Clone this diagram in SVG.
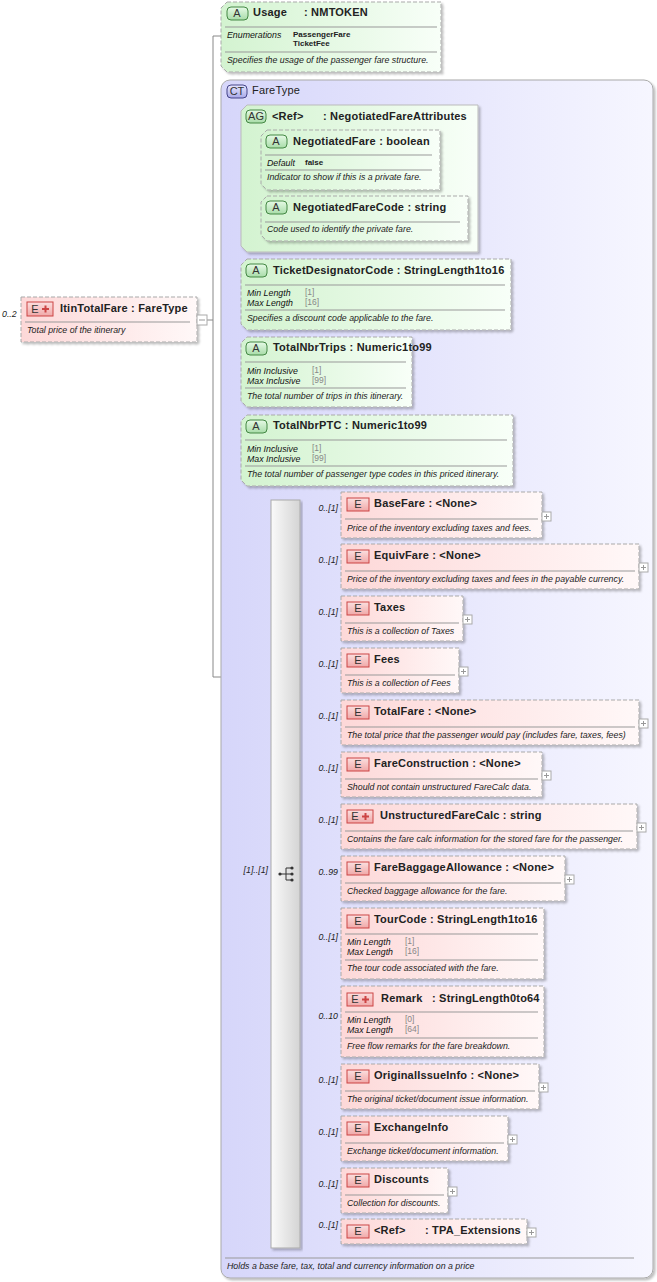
<svg xmlns="http://www.w3.org/2000/svg" width="657" height="1282" viewBox="0 0 657 1282">
<defs>
<linearGradient id="gE" x1="0" x2="1"><stop offset="0" stop-color="#fdd8d8"/><stop offset="1" stop-color="#fff8f8"/></linearGradient>
<linearGradient id="gA" x1="0" x2="1"><stop offset="0" stop-color="#d3f3d0"/><stop offset="1" stop-color="#f8fff8"/></linearGradient>
<linearGradient id="gCT" x1="0" x2="1"><stop offset="0" stop-color="#d6d6fa"/><stop offset="1" stop-color="#f6f6ff"/></linearGradient>
<linearGradient id="gSeq" x1="0" x2="1"><stop offset="0" stop-color="#fafafa"/><stop offset="1" stop-color="#d4d4d4"/></linearGradient>
<linearGradient id="gBE" x1="0" y1="0" x2="0" y2="1"><stop offset="0" stop-color="#fbe0e0"/><stop offset="1" stop-color="#f0a8a8"/></linearGradient>
<linearGradient id="gBA" x1="0" y1="0" x2="0" y2="1"><stop offset="0" stop-color="#e6fae6"/><stop offset="1" stop-color="#a8dca8"/></linearGradient>
<linearGradient id="gBC" x1="0" y1="0" x2="0" y2="1"><stop offset="0" stop-color="#e8e8ff"/><stop offset="1" stop-color="#a8a8e8"/></linearGradient>
<filter id="sh" x="-5%" y="-5%" width="115%" height="130%"><feDropShadow dx="2" dy="2" stdDeviation="1" flood-color="#000" flood-opacity="0.25"/></filter>
</defs>
<style>
text{font-family:"Liberation Sans",Arial,sans-serif;fill:#222;white-space:pre}
.t{font-size:11px;font-weight:bold;letter-spacing:0.2px}
.d{font-size:8.8px;font-style:italic}
.k{font-size:8.8px;font-style:italic;fill:#111}
.v{font-size:8.5px;fill:#888}
.b{font-size:8px;font-weight:bold}
.c{font-size:8.8px;font-style:italic;text-anchor:end}
.bt{font-size:11px;text-anchor:middle;fill:#333}
.el{fill:url(#gE);stroke:#aaa;stroke-dasharray:4,2;filter:url(#sh)}
.at{fill:url(#gA);stroke:#aaa;stroke-dasharray:4,2;filter:url(#sh)}
.ag{fill:url(#gA);stroke:#bbb;filter:url(#sh)}
.sep{stroke:#999;stroke-width:1}
.be{fill:url(#gBE);stroke:#c44}
.ba{fill:url(#gBA);stroke:#484}
.bc{fill:url(#gBC);stroke:#448}
.ln{stroke:#888;fill:none}
.pb{fill:#fff;stroke:#aaa}
.pl{stroke:#999}
</style>

<g id="connectors">
<path class="ln" d="M207,320H213M213,36V677H222M213,36H222"/>
<path class="ln" d="M231,178V874M231,178H241M231,295H241M231,372H241M231,450H241M231,874H271"/>
<path class="ln" d="M251,160V219M251,160H261M251,219H261"/>
<path class="ln" d="M300,514H341M300,566H341M300,618H341M300,670H341M300,722H341M300,774H341M300,826H341M300,878H341M300,943H341M300,1021H341M300,1086H341M300,1137H341M300,1189H341M300,1232H341"/>
</g>

<g id="ItinTotalFare">
<text x="2" y="317" class="c" style="text-anchor:start">0..2</text>
<rect class="el" x="21" y="297" width="176" height="45"/>
<rect class="be" x="27" y="302" width="26" height="14"/>
<text x="35" y="313" class="bt">E</text>
<path d="M42,309h7M45.5,305.5v7" stroke="#c44" stroke-width="2"/>
<text x="60" y="312" class="t">ItinTotalFare : FareType</text>
<line class="sep" x1="25" y1="322" x2="190" y2="322"/>
<text x="27" y="333" class="d">Total price of the itinerary</text>
<rect class="pb" x="197" y="315" width="10" height="10"/>
<line class="pl" x1="199" y1="320" x2="205" y2="320"/>
</g>

<g id="Usage">
<path class="at" d="M227,2H441V72H227L221,66V8Z"/>
<rect class="ba" x="227" y="7" width="21" height="13" rx="4"/>
<text x="237" y="17" class="bt">A</text>
<text x="253" y="16" class="t">Usage</text>
<text x="304" y="16" class="t">: NMTOKEN</text>
<line class="sep" x1="225" y1="27" x2="437" y2="27"/>
<text x="227" y="38" class="k">Enumerations</text>
<text x="293" y="37" class="b">PassengerFare</text>
<text x="293" y="46" class="b">TicketFee</text>
<line class="sep" x1="225" y1="52" x2="437" y2="52"/>
<text x="227" y="63" class="d">Specifies the usage of the passenger fare structure.</text>
</g>

<g id="FareType">
<rect x="221" y="80" width="432" height="1198" rx="9" fill="url(#gCT)" stroke="#aaa" filter="url(#sh)"/>
<rect class="bc" x="227" y="85" width="20" height="13" rx="4"/>
<text x="237" y="95" class="bt">CT</text>
<text x="252" y="94" class="t" style="font-weight:normal">FareType</text>
<line class="sep" x1="225" y1="1258" x2="634" y2="1258"/>
<text x="227" y="1269" class="d">Holds a base fare, tax, total and currency information on a price</text>
</g>

<g id="NegotiatedFareAttributes">
<path class="ag" d="M247,105H478V252H247L241,246V111Z"/>
<rect class="ba" x="246" y="110" width="20" height="13" rx="4"/>
<text x="256" y="120" class="bt">AG</text>
<text x="272" y="120" class="t">&lt;Ref&gt;</text>
<text x="323" y="120" class="t">: NegotiatedFareAttributes</text>
</g>

<g id="NegotiatedFare">
<path class="at" d="M267,130H440V190H267L261,184V136Z"/>
<rect class="ba" x="266" y="135" width="21" height="13" rx="4"/>
<text x="276" y="145" class="bt">A</text>
<text x="293" y="145" class="t">NegotiatedFare : boolean</text>
<line class="sep" x1="265" y1="155" x2="432" y2="155"/>
<text x="267" y="166" class="k">Default</text>
<text x="305" y="165" class="b">false</text>
<line class="sep" x1="265" y1="170" x2="432" y2="170"/>
<text x="267" y="180" class="d">Indicator to show if this is a private fare.</text>
</g>

<g id="NegotiatedFareCode">
<path class="at" d="M267,196H468V241H267L261,235V202Z"/>
<rect class="ba" x="266" y="201" width="21" height="13" rx="4"/>
<text x="276" y="211" class="bt">A</text>
<text x="293" y="211" class="t">NegotiatedFareCode : string</text>
<line class="sep" x1="265" y1="222" x2="460" y2="222"/>
<text x="267" y="232" class="d">Code used to identify the private fare.</text>
</g>

<g id="TicketDesignatorCode">
<path class="at" d="M247,259H511V330H247L241,324V265Z"/>
<rect class="ba" x="246" y="264" width="21" height="13" rx="4"/>
<text x="256" y="274" class="bt">A</text>
<text x="273" y="274" class="t">TicketDesignatorCode : StringLength1to16</text>
<line class="sep" x1="245" y1="285" x2="505" y2="285"/>
<text x="247" y="296" class="k">Min Length</text><text x="305" y="295" class="v">[1]</text>
<text x="247" y="306" class="k">Max Length</text><text x="305" y="305" class="v">[16]</text>
<line class="sep" x1="245" y1="310" x2="505" y2="310"/>
<text x="247" y="321" class="d">Specifies a discount code applicable to the fare.</text>
</g>

<g id="TotalNbrTrips">
<path class="at" d="M247,337H412V407H247L241,401V343Z"/>
<rect class="ba" x="246" y="342" width="21" height="13" rx="4"/>
<text x="256" y="352" class="bt">A</text>
<text x="273" y="351" class="t">TotalNbrTrips : Numeric1to99</text>
<line class="sep" x1="245" y1="362" x2="406" y2="362"/>
<text x="247" y="374" class="k">Min Inclusive</text><text x="312" y="373" class="v">[1]</text>
<text x="247" y="384" class="k">Max Inclusive</text><text x="312" y="383" class="v">[99]</text>
<line class="sep" x1="245" y1="388" x2="406" y2="388"/>
<text x="247" y="399" class="d">The total number of trips in this itinerary.</text>
</g>

<g id="TotalNbrPTC">
<path class="at" d="M247,415H513V486H247L241,480V421Z"/>
<rect class="ba" x="246" y="420" width="21" height="13" rx="4"/>
<text x="256" y="430" class="bt">A</text>
<text x="273" y="429" class="t">TotalNbrPTC : Numeric1to99</text>
<line class="sep" x1="245" y1="440" x2="507" y2="440"/>
<text x="247" y="452" class="k">Min Inclusive</text><text x="312" y="451" class="v">[1]</text>
<text x="247" y="462" class="k">Max Inclusive</text><text x="312" y="461" class="v">[99]</text>
<line class="sep" x1="245" y1="466" x2="507" y2="466"/>
<text x="247" y="477" class="d">The total number of passenger type codes in this priced itinerary.</text>
</g>

<g id="Sequence">
<rect x="271" y="500" width="29" height="748" fill="url(#gSeq)" stroke="#aaa" filter="url(#sh)"/>
<text x="268" y="873" class="c">[1]..[1]</text>
<path d="M280,874H286M286,868V880M286,868H291M286,874H291M286,880H291" stroke="#333" fill="none"/>
<circle cx="280" cy="874" r="1.6" fill="#333"/>
<circle cx="292" cy="868" r="1.6" fill="#333"/>
<circle cx="292" cy="874" r="1.6" fill="#333"/>
<circle cx="292" cy="880" r="1.6" fill="#333"/>
</g>

<g id="BaseFare" transform="translate(341,492)">
<text x="-3" y="19" class="c">0..[1]</text>
<rect class="el" x="0" y="0" width="201" height="46"/>
<rect class="be" x="6" y="6" width="22" height="13"/><text x="17" y="16" class="bt">E</text>
<text x="33" y="15" class="t">BaseFare : &lt;None&gt;</text>
<line class="sep" x1="4" y1="27" x2="197" y2="27"/>
<text x="6" y="39" class="d">Price of the inventory excluding taxes and fees.</text>
<rect class="pb" x="201" y="20" width="9" height="9"/><path class="pl" d="M203,24.5h5M205.5,22v5"/>
</g>

<g id="EquivFare" transform="translate(341,544)">
<text x="-3" y="19" class="c">0..[1]</text>
<rect class="el" x="0" y="0" width="298" height="45"/>
<rect class="be" x="6" y="6" width="22" height="13"/><text x="17" y="16" class="bt">E</text>
<text x="33" y="15" class="t">EquivFare : &lt;None&gt;</text>
<line class="sep" x1="4" y1="27" x2="294" y2="27"/>
<text x="6" y="38" class="d">Price of the inventory excluding taxes and fees in the payable currency.</text>
<rect class="pb" x="298" y="19" width="9" height="9"/><path class="pl" d="M300,23.5h5M302.5,21v5"/>
</g>

<g id="Taxes" transform="translate(341,596)">
<text x="-3" y="19" class="c">0..[1]</text>
<rect class="el" x="0" y="0" width="122" height="45"/>
<rect class="be" x="6" y="6" width="22" height="13"/><text x="17" y="16" class="bt">E</text>
<text x="33" y="15" class="t">Taxes</text>
<line class="sep" x1="4" y1="27" x2="118" y2="27"/>
<text x="6" y="38" class="d">This is a collection of Taxes</text>
<rect class="pb" x="122" y="19" width="9" height="9"/><path class="pl" d="M124,23.5h5M126.5,21v5"/>
</g>

<g id="Fees" transform="translate(341,648)">
<text x="-3" y="19" class="c">0..[1]</text>
<rect class="el" x="0" y="0" width="118" height="45"/>
<rect class="be" x="6" y="6" width="22" height="13"/><text x="17" y="16" class="bt">E</text>
<text x="33" y="15" class="t">Fees</text>
<line class="sep" x1="4" y1="27" x2="114" y2="27"/>
<text x="6" y="38" class="d">This is a collection of Fees</text>
<rect class="pb" x="118" y="19" width="9" height="9"/><path class="pl" d="M120,23.5h5M122.5,21v5"/>
</g>

<g id="TotalFare" transform="translate(341,700)">
<text x="-3" y="19" class="c">0..[1]</text>
<rect class="el" x="0" y="0" width="298" height="45"/>
<rect class="be" x="6" y="6" width="22" height="13"/><text x="17" y="16" class="bt">E</text>
<text x="33" y="15" class="t">TotalFare : &lt;None&gt;</text>
<line class="sep" x1="4" y1="27" x2="294" y2="27"/>
<text x="6" y="38" class="d">The total price that the passenger would pay (includes fare, taxes, fees)</text>
<rect class="pb" x="298" y="19" width="9" height="9"/><path class="pl" d="M300,23.5h5M302.5,21v5"/>
</g>

<g id="FareConstruction" transform="translate(341,752)">
<text x="-3" y="19" class="c">0..[1]</text>
<rect class="el" x="0" y="0" width="201" height="45"/>
<rect class="be" x="6" y="6" width="22" height="13"/><text x="17" y="16" class="bt">E</text>
<text x="33" y="15" class="t">FareConstruction : &lt;None&gt;</text>
<line class="sep" x1="4" y1="27" x2="197" y2="27"/>
<text x="6" y="38" class="d">Should not contain unstructured FareCalc data.</text>
<rect class="pb" x="201" y="19" width="9" height="9"/><path class="pl" d="M203,23.5h5M205.5,21v5"/>
</g>

<g id="UnstructuredFareCalc" transform="translate(341,804)">
<text x="-3" y="19" class="c">0..[1]</text>
<rect class="el" x="0" y="0" width="296" height="45"/>
<rect class="be" x="6" y="6" width="26" height="13"/><text x="14" y="16" class="bt">E</text>
<path d="M21,12.5h7M24.5,9v7" stroke="#c44" stroke-width="2"/>
<text x="39" y="15" class="t">UnstructuredFareCalc : string</text>
<line class="sep" x1="4" y1="27" x2="292" y2="27"/>
<text x="6" y="38" class="d">Contains the fare calc information for the stored fare for the passenger.</text>
<rect class="pb" x="296" y="19" width="9" height="9"/><path class="pl" d="M298,23.5h5M300.5,21v5"/>
</g>

<g id="FareBaggageAllowance" transform="translate(341,856)">
<text x="-3" y="19" class="c">0..99</text>
<rect class="el" x="0" y="0" width="224" height="45"/>
<rect class="be" x="6" y="6" width="22" height="13"/><text x="17" y="16" class="bt">E</text>
<text x="33" y="15" class="t">FareBaggageAllowance : &lt;None&gt;</text>
<line class="sep" x1="4" y1="27" x2="220" y2="27"/>
<text x="6" y="38" class="d">Checked baggage allowance for the fare.</text>
<rect class="pb" x="224" y="19" width="9" height="9"/><path class="pl" d="M226,23.5h5M228.5,21v5"/>
</g>

<g id="TourCode" transform="translate(341,908)">
<text x="-3" y="32" class="c">0..[1]</text>
<rect class="el" x="0" y="0" width="203" height="71"/>
<rect class="be" x="6" y="7" width="22" height="13"/><text x="17" y="17" class="bt">E</text>
<text x="33" y="15" class="t">TourCode : StringLength1to16</text>
<line class="sep" x1="4" y1="26" x2="197" y2="26"/>
<text x="6" y="37" class="k">Min Length</text><text x="64" y="36" class="v">[1]</text>
<text x="6" y="47" class="k">Max Length</text><text x="64" y="46" class="v">[16]</text>
<line class="sep" x1="4" y1="52" x2="197" y2="52"/>
<text x="6" y="63" class="d">The tour code associated with the fare.</text>
</g>

<g id="Remark" transform="translate(341,986)">
<text x="-3" y="33" class="c">0..10</text>
<rect class="el" x="0" y="0" width="203" height="71"/>
<rect class="be" x="6" y="7" width="26" height="13"/><text x="14" y="17" class="bt">E</text>
<path d="M21,13.5h7M24.5,10v7" stroke="#c44" stroke-width="2"/>
<text x="40" y="16" class="t">Remark</text>
<text x="91" y="16" class="t">: StringLength0to64</text>
<line class="sep" x1="4" y1="26" x2="197" y2="26"/>
<text x="6" y="37" class="k">Min Length</text><text x="64" y="36" class="v">[0]</text>
<text x="6" y="47" class="k">Max Length</text><text x="64" y="46" class="v">[64]</text>
<line class="sep" x1="4" y1="52" x2="197" y2="52"/>
<text x="6" y="63" class="d">Free flow remarks for the fare breakdown.</text>
</g>

<g id="OriginalIssueInfo" transform="translate(341,1064)">
<text x="-3" y="19" class="c">0..[1]</text>
<rect class="el" x="0" y="0" width="198" height="45"/>
<rect class="be" x="6" y="6" width="22" height="13"/><text x="17" y="16" class="bt">E</text>
<text x="33" y="15" class="t">OriginalIssueInfo : &lt;None&gt;</text>
<line class="sep" x1="4" y1="27" x2="194" y2="27"/>
<text x="6" y="38" class="d">The original ticket/document issue information.</text>
<rect class="pb" x="198" y="19" width="9" height="9"/><path class="pl" d="M200,23.5h5M202.5,21v5"/>
</g>

<g id="ExchangeInfo" transform="translate(341,1116)">
<text x="-3" y="19" class="c">0..[1]</text>
<rect class="el" x="0" y="0" width="167" height="45"/>
<rect class="be" x="6" y="6" width="22" height="13"/><text x="17" y="16" class="bt">E</text>
<text x="33" y="15" class="t">ExchangeInfo</text>
<line class="sep" x1="4" y1="27" x2="163" y2="27"/>
<text x="6" y="38" class="d">Exchange ticket/document information.</text>
<rect class="pb" x="167" y="19" width="9" height="9"/><path class="pl" d="M169,23.5h5M171.5,21v5"/>
</g>

<g id="Discounts" transform="translate(341,1168)">
<text x="-3" y="19" class="c">0..[1]</text>
<rect class="el" x="0" y="0" width="107" height="45"/>
<rect class="be" x="6" y="6" width="22" height="13"/><text x="17" y="16" class="bt">E</text>
<text x="33" y="15" class="t">Discounts</text>
<line class="sep" x1="4" y1="27" x2="103" y2="27"/>
<text x="6" y="38" class="d">Collection for discounts.</text>
<rect class="pb" x="107" y="19" width="9" height="9"/><path class="pl" d="M109,23.5h5M111.5,21v5"/>
</g>

<g id="TPA_Extensions" transform="translate(341,1219)">
<text x="-3" y="9" class="c">0..[1]</text>
<rect class="el" x="0" y="0" width="186" height="25"/>
<rect class="be" x="6" y="6" width="22" height="13"/><text x="17" y="16" class="bt">E</text>
<text x="33" y="15" class="t">&lt;Ref&gt;</text>
<text x="84" y="15" class="t">: TPA_Extensions</text>
<rect class="pb" x="186" y="9" width="9" height="9"/><path class="pl" d="M188,13.5h5M190.5,11v5"/>
</g>
</svg>
